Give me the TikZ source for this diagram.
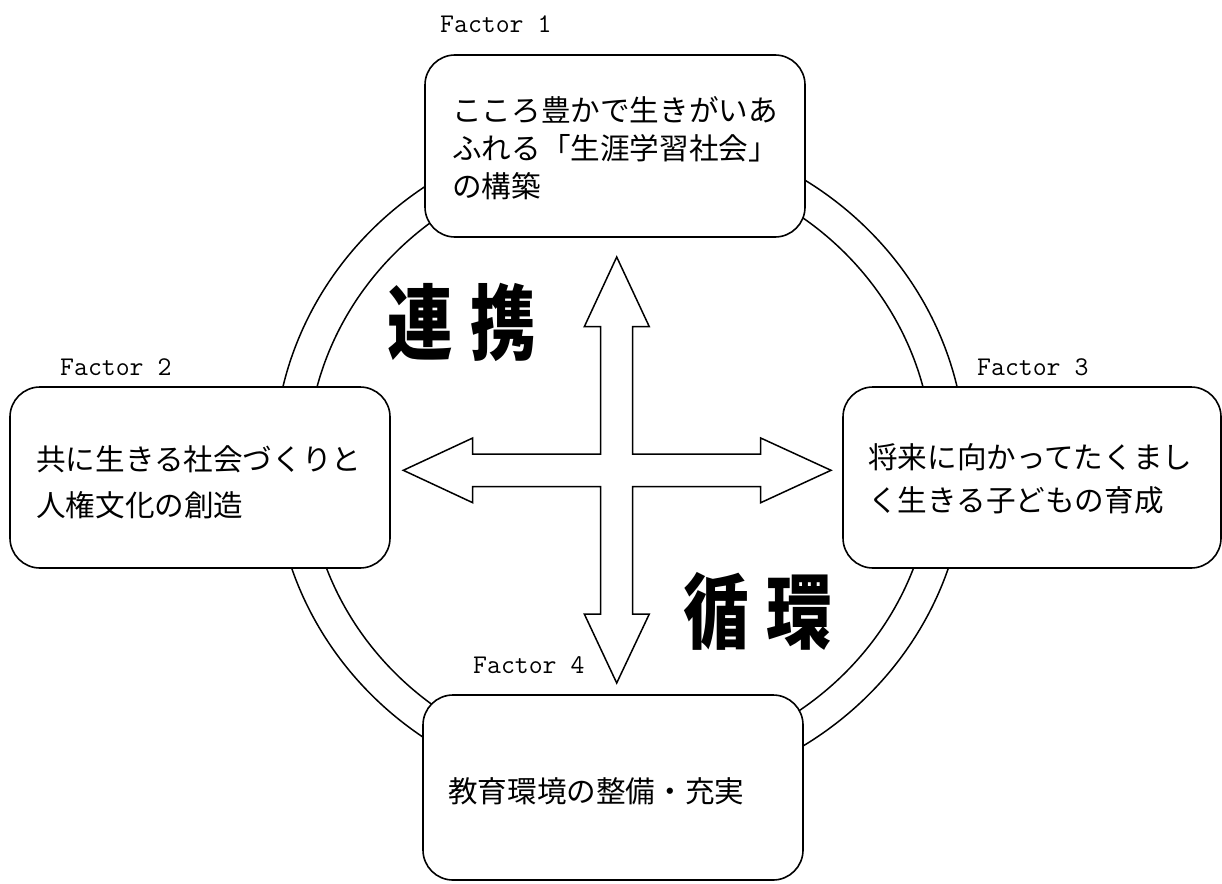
\documentclass[tikz,border=0pt]{standalone}
\usepackage{fontspec}
\newfontfamily\jp{Noto Sans CJK JP}
\tikzset{
  fbox/.style={draw, line width=1.6pt, rounded corners=30pt, fill=white, inner sep=0pt},
  ftext/.style={font=\jp\fontsize{29.6pt}{38pt}\selectfont, align=left, anchor=north west, inner sep=0pt},
  flabel/.style={font=\ttfamily\fontsize{27pt}{30pt}\selectfont, anchor=base west, inner sep=0pt},
  bigtext/.style={font=\jp\bfseries\fontsize{82pt}{90pt}\selectfont, xscale=0.8, transform shape, inner sep=0pt},
  ring/.style={draw, line width=1.5pt},
  crossarrow/.style={draw, line width=1.5pt, fill=white, line join=miter}
}
\begin{document}
\begin{tikzpicture}[x=1pt, y=-1pt]
\useasboundingbox (0,0) rectangle (1222,883);
\fill[white] (0,0) rectangle (1222,883);
% rings
\coordinate (c) at (620,463);
\draw[ring] (620,462.5) ellipse [x radius=346, y radius=334];
\draw[ring] (c) ellipse [x radius=313, y radius=302];
% boxes
\node[fbox, minimum width=380pt, minimum height=182pt] (f1) at (615,146) {};
\node[fbox, minimum width=380pt, minimum height=181pt] (f2) at (200,477.5) {};
\node[fbox, minimum width=378pt, minimum height=181pt] (f3) at (1032,477.5) {};
\node[fbox, minimum width=380pt, minimum height=185pt] (f4) at (613,787.5) {};
% box texts
\node[ftext] (t1) at (452,96) {こころ豊かで生きがいあ\\ふれる「生涯学習社会」\\の構築};
\node[ftext, font=\jp\fontsize{29.6pt}{46pt}\selectfont] (t2) at (36,445) {共に生きる社会づくりと\\人権文化の創造};
\node[ftext, font=\jp\fontsize{29.6pt}{43pt}\selectfont] (t3) at (868,443) {将来に向かってたくまし\\く生きる子どもの育成};
\node[ftext] (t4) at (448,777) {教育環境の整備・充実};
% factor labels
\node[flabel] (l1) at (440,33) {Factor 1};
\node[flabel] (l2) at (60,375) {Factor 2};
\node[flabel] (l3) at (977,375) {Factor 3};
\node[flabel] (l4) at (473,673) {Factor 4};
% big words
\node[bigtext] (renkei) at (461.5,322.5) {連\hspace{22pt}携};
\node[bigtext] (junkan) at (757.5,611.5) {循\hspace{22pt}環};
% cross double arrow
\coordinate (x0) at (616.7,470.3);
\draw[crossarrow]
  (616.7,257) -- (649.3,326.7) -- (632.7,326.7) -- (632.7,454) -- (760.7,454)
  -- (760.7,438) -- (831,470.3) -- (760.7,502.7) -- (760.7,486.7) -- (632.7,486.7)
  -- (632.7,614) -- (649.3,614) -- (616.7,683) -- (584.3,614) -- (600.7,614)
  -- (600.7,486.7) -- (472.7,486.7) -- (472.7,502.7) -- (403.3,470.3) -- (472.7,438)
  -- (472.7,454) -- (600.7,454) -- (600.7,326.7) -- (584.3,326.7) -- cycle;
\end{tikzpicture}
\end{document}
